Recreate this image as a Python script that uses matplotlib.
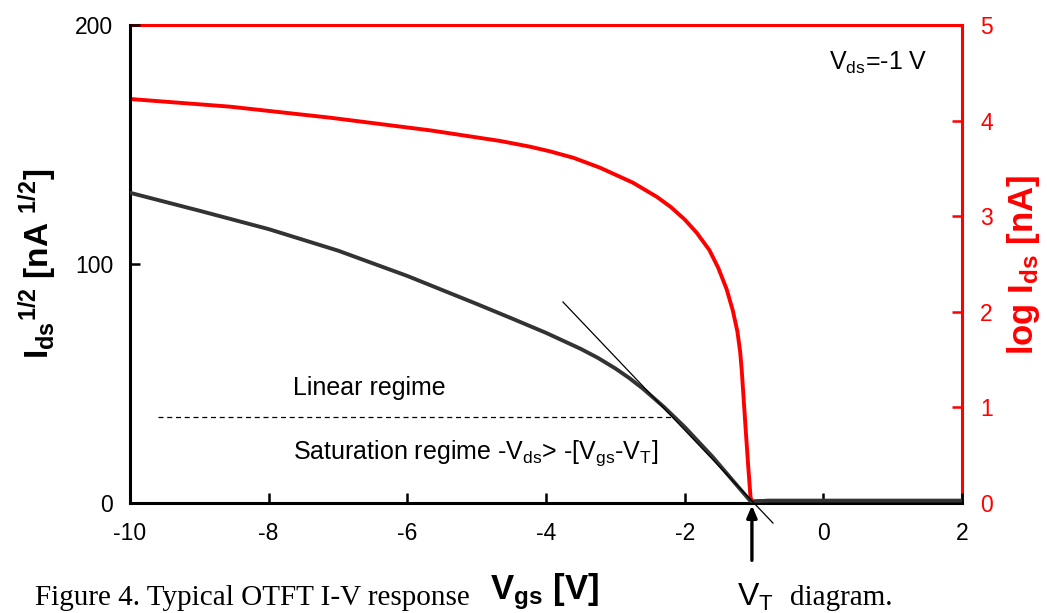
import matplotlib
matplotlib.use("Agg")
import matplotlib.pyplot as plt

plt.rcParams['font.family'] = ['Liberation Sans', 'DejaVu Sans']
plt.rcParams['mathtext.fontset'] = 'custom'
plt.rcParams['mathtext.rm'] = 'Liberation Sans'
plt.rcParams['mathtext.it'] = 'Liberation Sans'
plt.rcParams['mathtext.bf'] = 'Liberation Sans:bold'
plt.rcParams['axes.unicode_minus'] = False

# Data
vgs_sqrt = [-10.0, -9.0, -8.0, -7.0, -6.0, -5.0, -4.5, -4.0, -3.5, -3.25, -3.0, -2.8,
            -2.6, -2.3, -2.0, -1.6, -1.3, -1.03, -0.95, -0.8, 2.0]
ids_sqrt = [129.8, 122.3, 114.6, 105.6, 95.0, 83.3, 77.3, 71.2, 64.5, 60.7, 56.3, 52.3,
            47.8, 40.2, 31.8, 19.4, 9.2, 0.1, 0.7, 1.0, 1.0]

vgs_log = [-10.0, -8.56, -7.12, -5.67, -4.66, -4.23, -3.94, -3.6, -3.22, -2.75, -2.4,
           -2.2, -2.0, -1.83, -1.644, -1.514, -1.394, -1.307, -1.24, -1.20, -1.177,
           -1.154, -1.12, -1.085, -1.05, -1.03, -0.95, 2.0]
log_ids = [4.226, 4.146, 4.031, 3.898, 3.787, 3.727, 3.678, 3.61, 3.507, 3.352, 3.202,
           3.096, 2.966, 2.83, 2.646, 2.457, 2.235, 2.017, 1.796, 1.584, 1.389,
           1.14, 0.77, 0.40, 0.06, 0.02, 0.02, 0.02]

tangent_x = [-3.755, -0.726]
tangent_y = [84.1, -8.4]
regime_x = [-9.6, -2.2]
regime_y = [36, 36]
v_t = -1.03

x_ticks = [-10, -8, -6, -4, -2, 0, 2]
y_ticks = [0, 100, 200]
y2_ticks = [0, 1, 2, 3, 4, 5]

fig = plt.figure(figsize=(10.47, 6.13), dpi=100)
ax = fig.add_axes([130/1047, 1-503/613, (962-130)/1047, (503-25)/613])
ax2 = ax.twinx()

ax.plot(vgs_sqrt, ids_sqrt, color='#333333', lw=2.8, zorder=3,
        solid_joinstyle='round')
ax.plot(tangent_x, tangent_y, color='black', lw=0.9, clip_on=False, zorder=4)
ax.plot(regime_x, regime_y, color='black', lw=0.9, ls=(0, (4, 3)), zorder=2)
ax2.plot(vgs_log, log_ids, color='#ff0000', lw=2.8, zorder=3, solid_joinstyle='round')

ax.set_xlim(-10, 2)
ax.set_ylim(0, 200)
ax2.set_ylim(0, 5)
ax.set_xticks(x_ticks)
ax.set_yticks(y_ticks)
ax2.set_yticks(y2_ticks)

ax.tick_params(axis='x', direction='in', length=7, width=1.8, labelsize=16.5, pad=14, colors='black')
ax.tick_params(axis='y', direction='in', length=7, width=1.8, labelsize=16.5, pad=12, colors='black')
ax2.tick_params(axis='y', direction='in', length=7, width=1.8, labelsize=16.5, pad=13,
                colors='#ff0000', labelcolor='#ff0000')

for s in ['left', 'bottom']:
    ax.spines[s].set_color('black')
    ax.spines[s].set_linewidth(2.2)
for s in ['top', 'right']:
    ax.spines[s].set_visible(False)
ax2.spines['left'].set_visible(False)
ax2.spines['bottom'].set_visible(False)
for s in ['top', 'right']:
    ax2.spines[s].set_color('#ff0000')
    ax2.spines[s].set_linewidth(2.2)

ax.set_zorder(ax2.get_zorder() + 1)
ax.patch.set_visible(False)

# Axis labels
fig.text(38/1047, 1-264/613, r'$\mathbf{I_{ds}}^{\mathbf{1/2}}$ [nA $^{\mathbf{1/2}}$]',
         rotation=90, ha='center', va='center', fontsize=24, fontweight='bold')
fig.text(1024/1047, 1-265/613, r'log I$_{\mathbf{ds}}$ [nA]', rotation=90, ha='center',
         va='center', fontsize=25, fontweight='bold', color='#ff0000')

# Annotations
ax.text(-7.65, 48, 'Linear regime', fontsize=18, ha='left', va='center')
ax.text(-7.65, 21, r'Saturation regime -V$_{\mathregular{ds}}$> -[V$_{\mathregular{gs}}$-V$_{\mathregular{T}}$]',
        fontsize=18, ha='left', va='center')
ax.text(0.08, 184, r'V$_{\mathregular{ds}}$=-1 V', fontsize=18, ha='left', va='center')

ax.annotate('', xy=(v_t, -1), xytext=(v_t, -24), xycoords='data', textcoords='data',
            annotation_clip=False,
            arrowprops=dict(arrowstyle='-|>,head_length=0.7,head_width=0.3', color='black', lw=2.4,
                            shrinkA=0, shrinkB=0))

# Caption line
fig.text(35/1047, 1-598/613, 'Figure 4. Typical OTFT I-V response', fontsize=21,
         family='Liberation Serif', ha='left', va='center')
fig.text(490/1047, 1-592/613, r'V$_{\mathbf{gs}}$ [V]', fontsize=25, fontweight='bold',
         ha='left', va='center')
fig.text(737/1047, 1-597/613, r'V$_{\mathregular{T}}$', fontsize=23, ha='left', va='center')
fig.text(790/1047, 1-598/613, 'diagram.', fontsize=21, family='Liberation Serif',
         ha='left', va='center')

fig.savefig('out.png', dpi=100)
